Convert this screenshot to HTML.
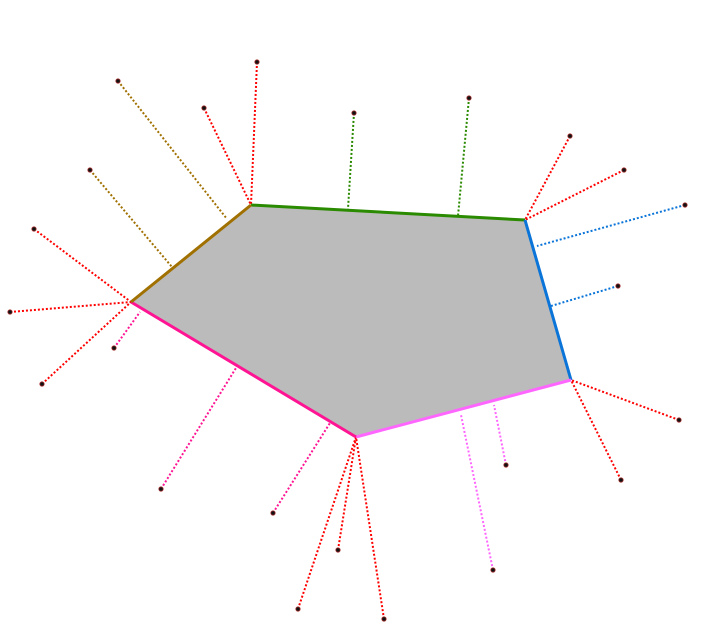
<!DOCTYPE html>
<html><head><meta charset="utf-8"><style>
html,body{margin:0;padding:0;background:#fff;}
svg{display:block;}
</style></head><body>
<svg id="chart" width="713" height="632" viewBox="0 0 713 632" xmlns="http://www.w3.org/2000/svg"></svg>
<script>
const vertexX = [251, 525, 571, 356, 131];
const vertexY = [205, 220, 380, 437, 302];
const edgeColors = ['#2a8a00', '#0a74d8', '#ff66ff', '#ff1493', '#a07000'];
// points connected to vertices (red dotted)
const vPointX = [257, 204, 570, 624, 679, 621, 298, 338, 384, 34, 10, 42];
const vPointY = [62, 108, 136, 170, 420, 480, 609, 550, 619, 229, 312, 384];
const vPointIdx = [0, 0, 1, 1, 2, 2, 3, 3, 3, 4, 4, 4];
// points connected to edges (edge-coloured dotted)
const ePointX = [118, 90, 354, 469, 685, 618, 506, 493, 273, 161, 114];
const ePointY = [81, 170, 113, 98, 205, 286, 465, 570, 513, 489, 348];
const eFootX = [227, 172, 348, 458, 537, 551, 494, 461, 330, 236, 140];
const eFootY = [219, 267, 209, 216, 246, 306, 405, 415, 423, 368, 312];
const eEdgeIdx = [4, 4, 0, 0, 1, 1, 2, 2, 3, 3, 3];

const svg = document.getElementById('chart');
const NS = 'http://www.w3.org/2000/svg';
function mk(tag, attrs){const e=document.createElementNS(NS,tag);for(const k in attrs)e.setAttribute(k,attrs[k]);svg.appendChild(e);return e;}

const poly = mk('polygon', {points: vertexX.map((x,i)=>x+','+vertexY[i]).join(' '), fill:'#bbbbbb', stroke:'none'});



for (let i=0;i<ePointX.length;i++){
  const l = mk('line',{x1:ePointX[i],y1:ePointY[i],x2:eFootX[i],y2:eFootY[i],stroke:edgeColors[eEdgeIdx[i]],'stroke-width':2,'stroke-dasharray':'2,2'});
  
  
}
for (let i=0;i<vPointX.length;i++){
  const j=vPointIdx[i];
  const l = mk('line',{x1:vPointX[i],y1:vPointY[i],x2:vertexX[j],y2:vertexY[j],stroke:'#ff0000','stroke-width':2,'stroke-dasharray':'2,2'});
  
  
}
for (let i=0;i<vertexX.length;i++){
  const n=(i+1)%vertexX.length;
  const l = mk('line',{x1:vertexX[i],y1:vertexY[i],x2:vertexX[n],y2:vertexY[n],stroke:edgeColors[i],'stroke-width':3});
  
  
}
const allX = vPointX.concat(ePointX), allY = vPointY.concat(ePointY);
for (let i=0;i<allX.length;i++){
  const c = mk('circle',{cx:allX[i],cy:allY[i],r:2.2,fill:'#111',stroke:'#a33','stroke-width':0.8});
  
  
}
</script>
</body></html>
